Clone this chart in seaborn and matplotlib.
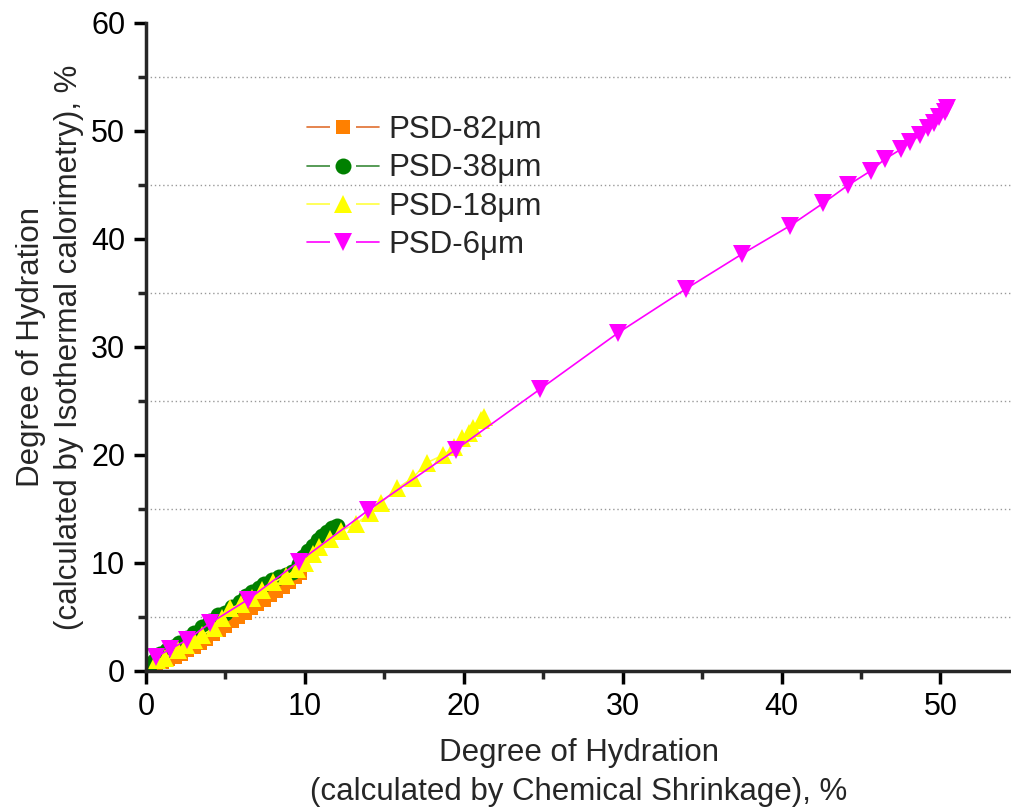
import matplotlib
matplotlib.use("Agg")
import matplotlib.pyplot as plt
import seaborn as sns
import numpy as np
from matplotlib.ticker import MultipleLocator
from matplotlib.lines import Line2D
from matplotlib.legend_handler import HandlerTuple

# ---- data ----
psd82_x = [0.6, 1.0, 1.4, 1.8, 2.2, 2.6, 3.0, 3.4, 3.8, 4.2, 4.6, 5.0, 5.4, 5.8,
           6.2, 6.6, 7.0, 7.4, 7.8, 8.2, 8.6, 9.0, 9.4, 9.7]
psd82_y = [0.5, 0.8, 1.1, 1.3, 1.6, 1.9, 2.2, 2.6, 3.0, 3.4, 3.8, 4.2, 4.6, 5.0,
           5.4, 5.8, 6.2, 6.6, 7.0, 7.4, 7.8, 8.2, 8.7, 9.1]

psd38_x = [0.2, 0.5, 0.9, 1.3, 1.7, 2.1, 2.6, 3.0, 3.5, 4.0, 4.5, 5.0, 5.4, 5.9,
           6.3, 6.7, 7.1, 7.4, 7.9, 8.4, 8.8, 9.2, 9.6, 9.9, 10.2, 10.5, 10.8,
           11.1, 11.4, 11.7, 12.0]
psd38_y = [0.5, 0.9, 1.6, 1.9, 2.2, 2.6, 3.1, 3.5, 4.1, 4.6, 5.2, 5.4, 5.9, 6.4,
           6.9, 7.3, 7.7, 8.1, 8.4, 8.7, 8.9, 9.2, 9.9, 10.6, 11.1, 11.6, 12.1,
           12.5, 12.9, 13.2, 13.4]

psd18_x = [0.7, 1.2, 2.0, 2.5, 3.0, 3.5, 4.3, 4.8, 5.3, 6.0, 6.7, 7.3, 8.0, 8.8,
           9.5, 10.0, 10.5, 10.9, 11.6, 12.3, 13.2, 14.1, 14.8, 15.8, 16.8, 17.7,
           18.7, 19.4, 19.9, 20.3, 20.6, 21.1, 21.3]
psd18_y = [1.0, 1.2, 1.9, 2.4, 2.9, 3.3, 4.0, 4.9, 5.8, 6.2, 6.8, 7.5, 8.2, 8.8,
           9.4, 10.0, 10.8, 11.5, 12.2, 13.0, 13.6, 14.6, 15.6, 16.9, 17.9, 19.3,
           20.0, 20.7, 21.6, 22.0, 22.5, 23.2, 23.5]

psd6_x = [0.6, 1.5, 2.6, 4.0, 6.4, 9.6, 14.0, 19.5, 24.8, 29.7, 34.0, 37.5, 40.5,
          42.6, 44.2, 45.6, 46.5, 47.5, 48.1, 48.7, 49.2, 49.6, 49.9, 50.3, 50.4]
psd6_y = [1.3, 2.0, 2.9, 4.4, 6.6, 10.1, 14.9, 20.5, 26.1, 31.3, 35.4, 38.6, 41.2,
          43.3, 45.0, 46.3, 47.4, 48.3, 49.0, 49.6, 50.3, 50.7, 51.3, 51.8, 52.1]

labels = ["PSD-82μm", "PSD-38μm", "PSD-18μm", "PSD-6μm"]
x_ticks = [0, 10, 20, 30, 40, 50]
y_ticks = [0, 10, 20, 30, 40, 50, 60]

# ---- style ----
sns.set_style("ticks")
plt.rcParams["font.family"] = ["Liberation Sans", "DejaVu Sans"]

fig = plt.figure(figsize=(10.12, 8.10), dpi=100)
ax = fig.add_axes([146 / 1012, 1 - 671 / 810, (1012 - 146) / 1012, (671 - 23) / 810])

series = [
    (psd82_x, psd82_y, labels[0], "#FF8000", "#E07030", "s", 10),
    (psd38_x, psd38_y, labels[1], "#008000", "#3A8A3A", "o", 11.5),
    (psd18_x, psd18_y, labels[2], "#FFFF00", "#FFFF40", "^", 13.5),
    (psd6_x, psd6_y, labels[3], "#FF00FF", "#FF00FF", "v", 13.5),
]
handles = []
for xs, ys, lab, mc, lc, mk, ms in series:
    sns.lineplot(x=xs, y=ys, ax=ax, sort=False, estimator=None,
                 color=lc, linewidth=1.2, marker=mk, markersize=ms,
                 markerfacecolor=mc, markeredgewidth=0, legend=False)
    h_line = Line2D([], [], color=lc, linewidth=1.2)
    h_gap = Line2D([], [], linestyle="none", marker="s", markersize=19,
                   markerfacecolor="white", markeredgecolor="white",
                   markeredgewidth=0)
    h_mark = Line2D([], [], linestyle="none", marker=mk, markersize=ms,
                    markerfacecolor=mc, markeredgewidth=0)
    handles.append((h_line, h_gap, h_mark))

ax.set_xlim(0, 54.5)
ax.set_ylim(0, 60)
ax.set_xticks(x_ticks)
ax.set_yticks(y_ticks)
ax.xaxis.set_minor_locator(MultipleLocator(5))
ax.yaxis.set_minor_locator(MultipleLocator(5))
ax.grid(False)
for v in np.arange(5, 60, 10):
    ax.axhline(v, color="#999999", linestyle=(0, (1, 2)), linewidth=1.0, zorder=0)

sns.despine(ax=ax)
for s in ["left", "bottom"]:
    ax.spines[s].set_linewidth(2.5)
ax.tick_params(which="major", direction="out", length=9, width=2.5,
               labelsize=22, pad=6, colors="black")
ax.tick_params(which="minor", direction="out", length=6, width=2.5)

ax.set_xlabel("Degree of Hydration\n(calculated by Chemical Shrinkage), %",
              fontsize=22.5, labelpad=12, linespacing=1.35)
ax.set_ylabel("Degree of Hydration\n(calculated by Isothermal calorimetry), %",
              fontsize=22.5, labelpad=5, linespacing=1.35)

leg = ax.legend(handles, labels, loc="upper left", bbox_to_anchor=(0.186, 0.858),
                frameon=False, fontsize=22.5, handlelength=2.3, handletextpad=0.3,
                labelspacing=0.27, borderpad=0, borderaxespad=0,
                handler_map={tuple: HandlerTuple(ndivide=1, pad=0)})

fig.savefig("out.png", dpi=100)
